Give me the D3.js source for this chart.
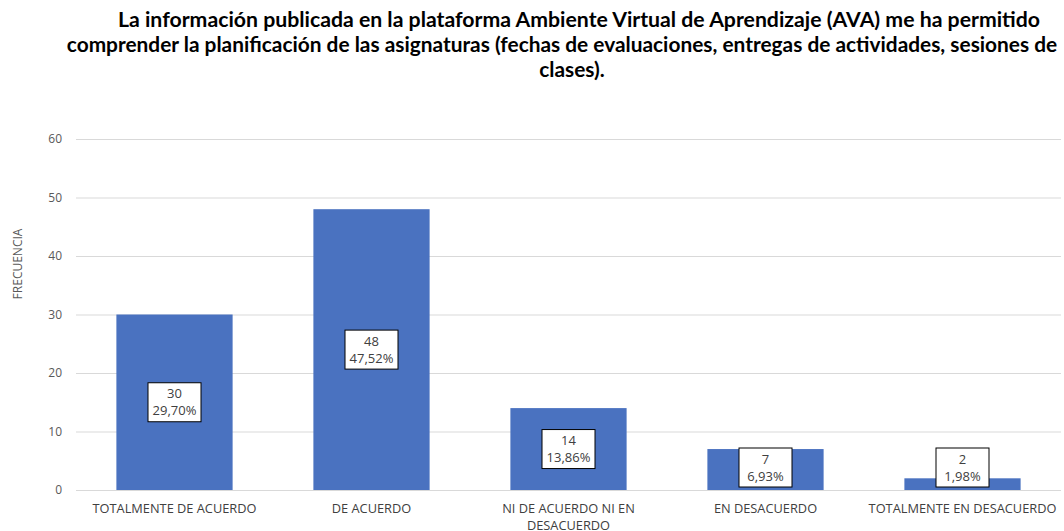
<!DOCTYPE html>
<html><head><meta charset="utf-8">
<script src="https://cdn.jsdelivr.net/npm/d3@7"></script>
<style>body{margin:0;background:#fff}svg{display:block}</style>
</head><body>
<svg id="chart" width="1064" height="531"></svg>
<script>
const categories = ["TOTALMENTE DE ACUERDO","DE ACUERDO","NI DE ACUERDO NI EN DESACUERDO","EN DESACUERDO","TOTALMENTE EN DESACUERDO"];
const values = [30, 48, 14, 7, 2];
const percents = ["29,70%","47,52%","13,86%","6,93%","1,98%"];
const yTicks = [0,10,20,30,40,50,60];
const titleLines = [
 "La información publicada en la plataforma Ambiente Virtual de Aprendizaje (AVA) me ha permitido",
 "comprender la planificación de las asignaturas (fechas de evaluaciones, entregas de actividades, sesiones de",
 "clases)."
];
const yTitle = "FRECUENCIA";

(function(){
const svg = d3.select("#chart");
const mLeft = 76, mRight = 1061, mTop = 139, mBottom = 490;
const x = d3.scaleBand().domain(categories).range([mLeft, mRight]).paddingInner(0.41).paddingOuter(0.205);
const y = d3.scaleLinear().domain([0, 60]).range([mBottom, mTop]);

// title
const tg = svg.append("g").attr("font-family","Lato, 'Open Sans', sans-serif").attr("font-weight","bold").attr("fill","#000");
const tys = [27, 52, 77];
const txs = [579, 562, 572];
const tws = [922, 991, 0];
const nodes = [];
titleLines.forEach((t,i)=>{
  nodes.push(tg.append("text").attr("x", txs[i]).attr("y", tys[i]).attr("text-anchor","middle")
    .attr("font-size", 18).text(t));
});
const w2 = nodes[1].node().getComputedTextLength();
const fs = 18 * 991 / w2;
tg.selectAll("text").attr("font-size", fs);
nodes[0].attr("textLength", tws[0]).attr("lengthAdjust","spacingAndGlyphs");

// gridlines
svg.append("g").selectAll("line").data(yTicks).join("line")
  .attr("x1", mLeft).attr("x2", mRight)
  .attr("y1", d=>y(d)+0.5).attr("y2", d=>y(d)+0.5)
  .attr("stroke","#d9d9d9").attr("stroke-width",1);

// y axis
const yAxis = d3.axisLeft(y).tickValues(yTicks).tickSize(0).tickPadding(14);
const ya = svg.append("g").attr("transform",`translate(${mLeft},0)`).call(yAxis);
ya.select(".domain").remove();
ya.selectAll("text").attr("font-family","'Open Sans', sans-serif").attr("font-size",12).attr("fill","#595959");

svg.append("text").attr("transform","translate(22,264) rotate(-90)").attr("text-anchor","middle")
  .attr("font-family","'Open Sans', sans-serif").attr("font-size",12).attr("fill","#595959").text(yTitle);

// bars
svg.append("g").selectAll("rect").data(values).join("rect")
  .attr("x",(d,i)=>x(categories[i])).attr("width",x.bandwidth())
  .attr("y",d=>y(d)).attr("height",d=>y(0)-y(d)).attr("fill","#4a72c0");

// x axis labels
const xAxis = d3.axisBottom(x).tickSize(0).tickPadding(14);
const xa = svg.append("g").attr("transform",`translate(0,${mBottom})`).call(xAxis);
xa.select(".domain").remove();
xa.selectAll("text").attr("font-family","'Open Sans', sans-serif").attr("font-size",12.8).attr("fill","#404040")
  .each(function(d){
    if (d === "NI DE ACUERDO NI EN DESACUERDO") {
      const t = d3.select(this); t.text(null);
      t.append("tspan").attr("x",0).attr("dy","0.71em").text("NI DE ACUERDO NI EN");
      t.append("tspan").attr("x",0).attr("dy","1.3em").text("DESACUERDO");
      t.attr("dy",null);
    }
  });

// data labels
const bw = 53, bh = 39;
const lg = svg.append("g");
values.forEach((v,i)=>{
  const cx = x(categories[i]) + x.bandwidth()/2;
  let cy = (y(v)+y(0))/2;
  cy = Math.min(cy, y(0) - bh/2 - 3);
  const g = lg.append("g").attr("transform",`translate(${cx},${cy})`);
  g.append("rect").attr("x",-bw/2).attr("y",-bh/2).attr("width",bw).attr("height",bh)
    .attr("fill","#fff").attr("stroke","#000").attr("stroke-width",1);
  g.append("text").attr("text-anchor","middle").attr("y",-4).attr("font-family","'Open Sans', sans-serif")
    .attr("font-size",13).attr("fill","#404040").text(v);
  g.append("text").attr("text-anchor","middle").attr("y",13).attr("font-family","'Open Sans', sans-serif")
    .attr("font-size",13).attr("fill","#404040").text(percents[i]);
});
})();
</script>
</body></html>
